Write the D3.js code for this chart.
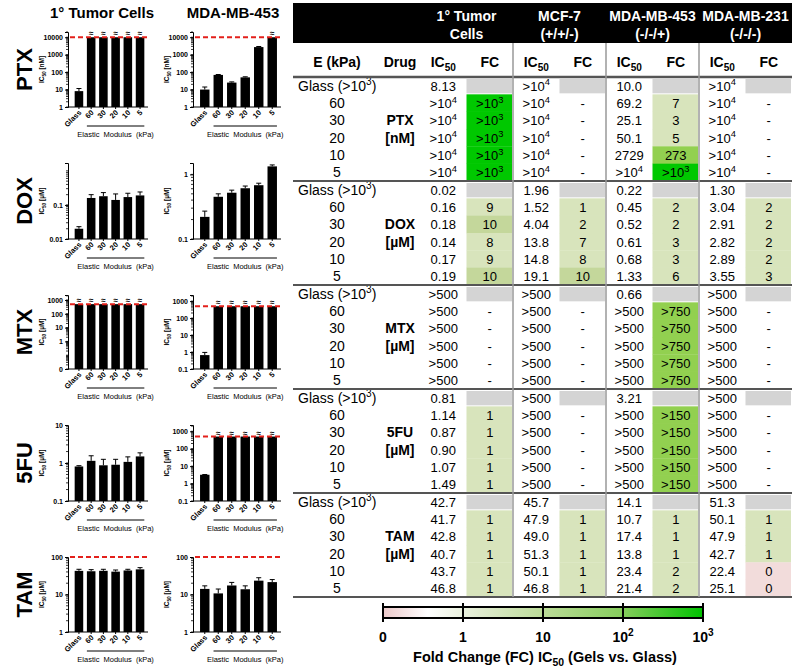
<!DOCTYPE html>
<html><head><meta charset="utf-8">
<script src="https://cdn.jsdelivr.net/npm/d3@7"></script>
<style>body{margin:0;background:#fff} svg{display:block;font-family:Arial,"Liberation Sans",sans-serif}</style>
</head><body><svg width="800" height="670"></svg>
<script>
// ---------------- DATA ----------------
const drugs = ["PTX","DOX","MTX","5FU","TAM"];
const units = ["[nM]","[µM]","[µM]","[µM]","[µM]"];
const moduli = ["Glass","60","30","20","10","5"];
const eLabels = ["Glass (>10^{3})","60","30","20","10","5"];

// bar charts (left)
const barLines = ["1° Tumor Cells","MDA-MB-453"];
const barPrimary = [
  [8.13,1e4,1e4,1e4,1e4,1e4],
  [0.02,0.16,0.18,0.14,0.17,0.19],
  [500,500,500,500,500,500],
  [0.81,1.14,0.87,0.90,1.07,1.49],
  [42.7,41.7,42.8,40.7,43.7,46.8]];
const errPrimary = [
  [11.5,null,null,null,null,null],
  [0.023,0.2,0.23,0.21,0.22,0.24],
  [null,null,null,null,null,null],
  [0.85,1.55,1.25,1.25,1.45,1.85],
  [47,46,47,45,47,52]];
const overPrimary = [[0,1,1,1,1,1],[0,0,0,0,0,0],[1,1,1,1,1,1],[0,0,0,0,0,0],[0,0,0,0,0,0]];
const bar453 = [
  [10.0,69.2,25.1,50.1,2729,1e4],
  [0.22,0.45,0.52,0.61,0.68,1.33],
  [0.66,500,500,500,500,500],
  [3.21,500,500,500,500,500],
  [14.1,10.7,17.4,13.8,23.4,21.4]];
const err453 = [
  [14,73,27.5,54,2950,null],
  [0.27,0.5,0.57,0.66,0.73,1.4],
  [0.95,null,null,null,null,null],
  [3.3,null,null,null,null,null],
  [17,14,21,17,28,25]];
const over453 = [[0,0,0,0,0,1],[0,0,0,0,0,0],[0,1,1,1,1,1],[0,1,1,1,1,1],[0,0,0,0,0,0]];
const limitPrimary = [1e4,null,500,null,100];
const limit453 = [1e4,null,500,500,100];
const yDomPrimary = [[1,2e4],[0.01,1.7],[0.01,2300],[0.1,10],[1,100]];
const yDom453 = [[1,2e4],[0.1,1.5],[0.1,2300],[0.1,2300],[1,100]];
const yTicksPrimary = [[1,10,100,1000,10000],[0.01,0.1],[0.01,1,10,100,1000],[0.1,1,10],[1,10,100]];
const yTickLabPrimary = [["1","10","100","1000","10000"],["0.01","0.1"],["0","1","10","100","1000"],["0.1","1","10"],["1","10","100"]];
const yTicks453 = [[1,10,100,1000,10000],[0.1,1],[0.1,1,10,100,1000],[0.1,1,10,100,1000],[1,10,100]];
const yTickLab453 = [["1","10","100","1000","10000"],["0.1","1"],["0.1","1","10","100","1000"],["0.1","1","10","100","1000"],["1","10","100"]];

// table (right)
const cellLines = ["1° Tumor Cells","MCF-7","MDA-MB-453","MDA-MB-231"];
const cellHeader = [["1° Tumor","Cells"],["MCF-7","(+/+/-)"],["MDA-MB-453","(-/-/+)"],["MDA-MB-231","(-/-/-)"]];
const ic50Primary = [
  ["8.13",">10^{4}",">10^{4}",">10^{4}",">10^{4}",">10^{4}"],
  ["0.02","0.16","0.18","0.14","0.17","0.19"],
  [">500",">500",">500",">500",">500",">500"],
  ["0.81","1.14","0.87","0.90","1.07","1.49"],
  ["42.7","41.7","42.8","40.7","43.7","46.8"]];
const ic50MCF7 = [
  [">10^{4}",">10^{4}",">10^{4}",">10^{4}",">10^{4}",">10^{4}"],
  ["1.96","1.52","4.04","13.8","14.8","19.1"],
  [">500",">500",">500",">500",">500",">500"],
  [">500",">500",">500",">500",">500",">500"],
  ["45.7","47.9","49.0","51.3","50.1","46.8"]];
const ic50MB453 = [
  ["10.0","69.2","25.1","50.1","2729",">10^{4}"],
  ["0.22","0.45","0.52","0.61","0.68","1.33"],
  ["0.66",">500",">500",">500",">500",">500"],
  ["3.21",">500",">500",">500",">500",">500"],
  ["14.1","10.7","17.4","13.8","23.4","21.4"]];
const ic50MB231 = [
  [">10^{4}",">10^{4}",">10^{4}",">10^{4}",">10^{4}",">10^{4}"],
  ["1.30","3.04","2.91","2.82","2.89","3.55"],
  [">500",">500",">500",">500",">500",">500"],
  [">500",">500",">500",">500",">500",">500"],
  ["51.3","50.1","47.9","42.7","22.4","25.1"]];
// fold change for gels 60..5 ("-" = not determined)
const fcPrimary = [
  [">10^{3}",">10^{3}",">10^{3}",">10^{3}",">10^{3}"],
  ["9","10","8","9","10"],
  ["-","-","-","-","-"],
  ["1","1","1","1","1"],
  ["1","1","1","1","1"]];
const fcMCF7 = [
  ["-","-","-","-","-"],
  ["1","2","7","8","10"],
  ["-","-","-","-","-"],
  ["-","-","-","-","-"],
  ["1","1","1","1","1"]];
const fcMB453 = [
  ["7","3","5","273",">10^{3}"],
  ["2","2","3","3","6"],
  [">750",">750",">750",">750",">750"],
  [">150",">150",">150",">150",">150"],
  ["1","1","1","2","2"]];
const fcMB231 = [
  ["-","-","-","-","-"],
  ["2","2","2","2","3"],
  ["-","-","-","-","-"],
  ["-","-","-","-","-"],
  ["1","1","1","0","0"]];
const legendTicks = ["0","1","10","10^{2}","10^{3}"];

// ---------------- HELPERS ----------------
const svg = d3.select("svg");
function rich(sel, str, fs){
  const parts = str.split(/([\^_]\{[^}]*\})/).filter(s=>s.length);
  let cur = 0;
  parts.forEach(p=>{
    let t=0, txt=p, size=fs;
    if (p[0]==='^' && p[1]==='{'){ t=-fs*0.4; txt=p.slice(2,-1); size=fs*0.72; }
    else if (p[0]==='_' && p[1]==='{'){ t=fs*0.25; txt=p.slice(2,-1); size=fs*0.72; }
    sel.append("tspan").attr("dy", t-cur).attr("font-size", size).text(txt);
    cur=t;
  });
  return sel;
}
function fcValue(s){
  if (s==="-") return null;
  const m = s.match(/^>?10\^\{(\d+)\}$/);
  if (m) return Math.pow(10,+m[1]);
  return +s.replace(">","");
}

// ---------------- LEFT PANEL ----------------
const rowTop = [32,163,295,425,557];
const rowBottom = [107,239,369,501,632];
const colX = [[68,148],[193,281]];
const colTitleX = [102,233];

svg.selectAll("text.coltitle").data(barLines).join("text").attr("class","coltitle")
  .attr("x",(d,i)=>colTitleX[i]).attr("y",18).attr("text-anchor","middle")
  .attr("font-weight","bold").attr("font-size",15).text(d=>d);

function drawBar(cfg, i, c){
  const [x0,x1] = colX[c];
  const bottom = rowBottom[i];
  const y = d3.scaleLog().domain(cfg.dom).range([bottom, rowTop[i]]);
  const x = d3.scaleBand().domain(moduli).range([x0+3, x1]).padding(0.3);
  const g = svg.append("g");
  // minor ticks
  const minors = [];
  const lo = Math.floor(Math.log10(cfg.dom[0])), hi = Math.ceil(Math.log10(cfg.dom[1]));
  for (let e=lo; e<hi; e++) for (let m=1; m<10; m++){ const v=m*Math.pow(10,e); if (v>=cfg.dom[0] && v<=cfg.dom[1]) minors.push(v); }
  g.selectAll("line.minor").data(minors).join("line").attr("x1",x0-2).attr("x2",x0).attr("y1",d=>y(d)).attr("y2",d=>y(d)).attr("stroke","#000").attr("stroke-width",0.8);
  const ax = d3.axisLeft(y).tickValues(cfg.ticks).tickFormat((d,k)=>cfg.labels[k]).tickSize(3).tickPadding(2);
  const ag = g.append("g").attr("transform",`translate(${x0},0)`).call(ax);
  ag.select(".domain").attr("stroke","#000");
  ag.selectAll("text").attr("font-size",7).attr("font-weight","bold").attr("font-family","Arial, 'Liberation Sans', sans-serif").attr("fill","#000");
  ag.selectAll(".tick line").attr("stroke","#000");
  // x axis
  g.append("line").attr("x1",x0).attr("x2",x1).attr("y1",bottom).attr("y2",bottom).attr("stroke","#000");
  g.selectAll("line.xt").data(moduli).join("line").attr("x1",d=>x(d)+x.bandwidth()/2).attr("x2",d=>x(d)+x.bandwidth()/2).attr("y1",bottom).attr("y2",bottom+2).attr("stroke","#000");
  // bars
  g.selectAll("rect.bar").data(cfg.vals).join("rect").attr("class","bar")
    .attr("x",(d,k)=>x(moduli[k])).attr("width",x.bandwidth())
    .attr("y",d=>y(d)).attr("height",d=>bottom-y(d)).attr("fill","#000");
  // error bars
  cfg.err.forEach((e,k)=>{
    if (e==null) return;
    const cx = x(moduli[k])+x.bandwidth()/2;
    g.append("line").attr("x1",cx).attr("x2",cx).attr("y1",y(cfg.vals[k])).attr("y2",y(e)).attr("stroke","#000").attr("stroke-width",1);
    g.append("line").attr("x1",cx-2.5).attr("x2",cx+2.5).attr("y1",y(e)).attr("y2",y(e)).attr("stroke","#000").attr("stroke-width",1);
  });
  // limit line
  if (cfg.lim!=null){
    g.append("line").attr("x1",x0+2).attr("x2",x1).attr("y1",y(cfg.lim)).attr("y2",y(cfg.lim))
      .attr("stroke","#e3201b").attr("stroke-width",2).attr("stroke-dasharray","5,3");
  }
  // over-range marks
  cfg.over.forEach((o,k)=>{
    if (!o) return;
    g.append("text").attr("x",x(moduli[k])+x.bandwidth()/2).attr("y",y(cfg.vals[k])-1)
      .attr("text-anchor","middle").attr("font-size",8).attr("font-weight","bold").text("≈");
  });
  // x labels
  g.selectAll("text.xl").data(moduli).join("text")
    .attr("transform",d=>`translate(${x(d)+x.bandwidth()/2+3},${bottom+6}) rotate(-45)`)
    .attr("text-anchor","end").attr("font-size",7.5).attr("font-weight","bold").text(d=>d);
  const lx0 = x(moduli[1]), lx1 = x(moduli[5])+x.bandwidth();
  g.append("line").attr("x1",lx0).attr("x2",lx1).attr("y1",bottom+19).attr("y2",bottom+19).attr("stroke","#000");
  g.append("text").attr("x",(lx0+lx1)/2).attr("y",bottom+30).attr("text-anchor","middle")
    .attr("font-size",7.5).attr("word-spacing",2).text("Elastic Modulus (kPa)");
  // y label
  const yl = g.append("text").attr("transform",`translate(${x0-24},${(bottom+rowTop[i])/2}) rotate(-90)`)
    .attr("text-anchor","middle").attr("font-weight","bold");
  rich(yl, "IC_{50} "+units[i], 6.5);
}

drugs.forEach((drug,i)=>{
  svg.append("text").attr("transform",`translate(32,${(rowTop[i]+rowBottom[i])/2}) rotate(-90)`)
    .attr("text-anchor","middle").attr("font-weight","bold").attr("font-size",22).text(drug);
  drawBar({vals:barPrimary[i],err:errPrimary[i],over:overPrimary[i],lim:limitPrimary[i],dom:yDomPrimary[i],ticks:yTicksPrimary[i],labels:yTickLabPrimary[i]}, i, 0);
  drawBar({vals:bar453[i],err:err453[i],over:over453[i],lim:limit453[i],dom:yDom453[i],ticks:yTicks453[i],labels:yTickLab453[i]}, i, 1);
});

// ---------------- TABLE ----------------
const tX0=293, tX1=792, bodyTop=77, secH=104, rowH=secH/6, eX=337, drugX=400;
const gx = d3.scaleBand().domain(cellLines).range([420,792]);
const bw = gx.bandwidth();
const ic50 = [ic50Primary, ic50MCF7, ic50MB453, ic50MB231];
const fcs = [fcPrimary, fcMCF7, fcMB453, fcMB231];
const fcColor = d3.scaleThreshold().domain([1,10,100,1000]).range(["#f2dcdb","#d8e4bc","#c4d79b","#92d050","#00c800"]);

svg.append("rect").attr("x",tX0).attr("y",3).attr("width",tX1-tX0).attr("height",40).attr("fill","#000");
cellHeader.forEach((lines,c)=>{
  lines.forEach((t,l)=>{
    svg.append("text").attr("x",gx(cellLines[c])+bw/2).attr("y",21+l*18).attr("text-anchor","middle")
      .attr("fill","#fff").attr("font-weight","bold").attr("font-size",14).text(t);
  });
});
// sub header
const sub = svg.append("g").attr("font-weight","bold");
sub.append("text").attr("x",eX).attr("y",67).attr("text-anchor","middle").attr("font-size",14).text("E (kPa)");
sub.append("text").attr("x",drugX).attr("y",67).attr("text-anchor","middle").attr("font-size",14).text("Drug");
cellLines.forEach(cl=>{
  rich(sub.append("text").attr("x",gx(cl)+bw/4).attr("y",67).attr("text-anchor","middle"),"IC_{50}",14);
  sub.append("text").attr("x",gx(cl)+bw*3/4).attr("y",67).attr("text-anchor","middle").attr("font-size",14).text("FC");
});

drugs.forEach((drug,i)=>{
  const y0 = bodyTop + i*secH;
  const rowY = j => y0 + j*rowH;
  // cell fills
  cellLines.forEach((cl,c)=>{
    svg.append("rect").attr("x",gx(cl)+bw/2).attr("y",rowY(0)+2).attr("width",bw/2-1).attr("height",rowH-3).attr("fill","#d4d4d4");
    fcs[c][i].forEach((f,k)=>{
      const v = fcValue(f);
      if (v==null) return;
      svg.append("rect").attr("x",gx(cl)+bw/2).attr("y",rowY(k+1)).attr("width",bw/2-1).attr("height",rowH+0.3).attr("fill",fcColor(v));
    });
  });
  // E labels
  eLabels.forEach((e,j)=>{
    const t = svg.append("text").attr("y",rowY(j)+rowH/2+5);
    if (j===0) t.attr("x",298).attr("text-anchor","start"); else t.attr("x",eX).attr("text-anchor","middle");
    rich(t, e, 14);
  });
  // drug
  svg.append("text").attr("x",drugX).attr("y",rowY(2)+rowH/2+5).attr("text-anchor","middle").attr("font-weight","bold").attr("font-size",14).text(drug);
  svg.append("text").attr("x",drugX).attr("y",rowY(3)+rowH/2+5).attr("text-anchor","middle").attr("font-weight","bold").attr("font-size",14).text(units[i]);
  // values
  cellLines.forEach((cl,c)=>{
    ic50[c][i].forEach((v,j)=>{
      rich(svg.append("text").attr("x",gx(cl)+bw/4).attr("y",rowY(j)+rowH/2+5).attr("text-anchor","middle"), v, 13);
    });
    fcs[c][i].forEach((f,k)=>{
      rich(svg.append("text").attr("x",gx(cl)+bw*3/4).attr("y",rowY(k+1)+rowH/2+5).attr("text-anchor","middle"), f, 13);
    });
  });
});
// grid lines
d3.range(6).forEach(i=>{
  svg.append("line").attr("x1",tX0).attr("x2",tX1).attr("y1",bodyTop+i*secH).attr("y2",bodyTop+i*secH)
    .attr("stroke","#555").attr("stroke-width",i===0?2.5:2);
});
cellLines.slice(1).forEach(cl=>{
  svg.append("line").attr("x1",gx(cl)).attr("x2",gx(cl)).attr("y1",43).attr("y2",bodyTop+5*secH)
    .attr("stroke","#999").attr("stroke-width",1.5);
});

// ---------------- LEGEND ----------------
const lx = d3.scalePoint().domain(legendTicks).range([383,703]);
const defs = svg.append("defs");
const grad = defs.append("linearGradient").attr("id","fcgrad");
[[0,"#ecc9ca"],[0.14,"#ffffff"],[0.3,"#e0ebcf"],[0.5,"#bcdc98"],[0.75,"#86cd5c"],[1,"#00c200"]]
  .forEach(([o,c])=>grad.append("stop").attr("offset",o).attr("stop-color",c));
svg.append("rect").attr("x",383).attr("y",607).attr("width",320).attr("height",11).attr("fill","url(#fcgrad)").attr("stroke","#000").attr("stroke-width",2);
legendTicks.forEach(t=>{
  svg.append("line").attr("x1",lx(t)).attr("x2",lx(t)).attr("y1",603).attr("y2",622).attr("stroke","#000").attr("stroke-width",2);
  rich(svg.append("text").attr("x",lx(t)).attr("y",642).attr("text-anchor","middle").attr("font-weight","bold"), t, 14);
});
rich(svg.append("text").attr("x",545).attr("y",662).attr("text-anchor","middle").attr("font-weight","bold"), "Fold Change (FC) IC_{50} (Gels vs. Glass)", 14.5);
</script></body></html>
